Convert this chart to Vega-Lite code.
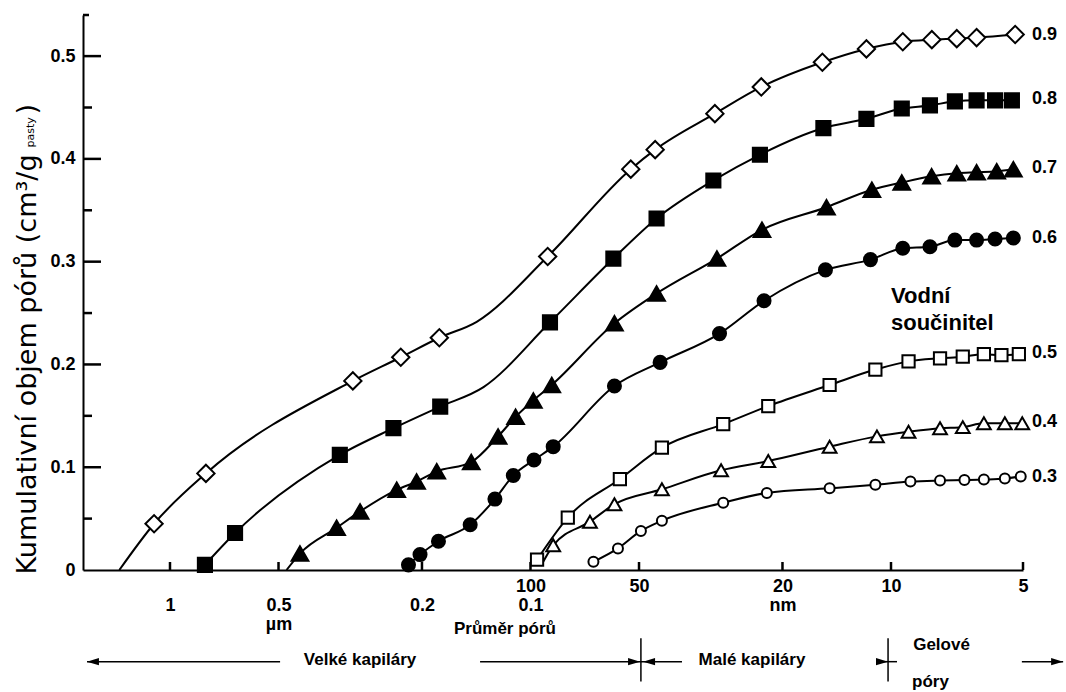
{
  "$schema": "https://vega.github.io/schema/vega-lite/v6.json",
  "width": 940,
  "height": 555,
  "autosize": {"type": "none"},
  "padding": {"left": 83, "top": 15, "right": 43, "bottom": 122},
  "background": "white",
  "config": {"view": {"stroke": null}, "axis": {"grid": false}},
  "datasets": {
    "curves": [
      {"s": 0.9, "d": 1382, "v": 0, "measured": false},
      {"s": 0.9, "d": 1107, "v": 0.045, "measured": true},
      {"s": 0.9, "d": 795, "v": 0.094, "measured": true},
      {"s": 0.9, "d": 311, "v": 0.184, "measured": true},
      {"s": 0.9, "d": 229, "v": 0.207, "measured": true},
      {"s": 0.9, "d": 179, "v": 0.226, "measured": true},
      {"s": 0.9, "d": 141, "v": 0.2415, "measured": false},
      {"s": 0.9, "d": 89.6, "v": 0.305, "measured": true},
      {"s": 0.9, "d": 52.7, "v": 0.39, "measured": true},
      {"s": 0.9, "d": 45.1, "v": 0.409, "measured": true},
      {"s": 0.9, "d": 30.8, "v": 0.444, "measured": true},
      {"s": 0.9, "d": 22.9, "v": 0.47, "measured": true},
      {"s": 0.9, "d": 15.5, "v": 0.494, "measured": true},
      {"s": 0.9, "d": 11.7, "v": 0.507, "measured": true},
      {"s": 0.9, "d": 9.4, "v": 0.514, "measured": true},
      {"s": 0.9, "d": 8.07, "v": 0.516, "measured": true},
      {"s": 0.9, "d": 7.08, "v": 0.517, "measured": true},
      {"s": 0.9, "d": 6.38, "v": 0.518, "measured": true},
      {"s": 0.9, "d": 5.21, "v": 0.521, "measured": true},

      {"s": 0.8, "d": 800, "v": 0.005, "measured": true},
      {"s": 0.8, "d": 660, "v": 0.036, "measured": true},
      {"s": 0.8, "d": 338, "v": 0.112, "measured": true},
      {"s": 0.8, "d": 240, "v": 0.138, "measured": true},
      {"s": 0.8, "d": 178, "v": 0.159, "measured": true},
      {"s": 0.8, "d": 135, "v": 0.178, "measured": false},
      {"s": 0.8, "d": 88.3, "v": 0.241, "measured": true},
      {"s": 0.8, "d": 58.9, "v": 0.303, "measured": true},
      {"s": 0.8, "d": 44.7, "v": 0.342, "measured": true},
      {"s": 0.8, "d": 31.1, "v": 0.379, "measured": true},
      {"s": 0.8, "d": 23.1, "v": 0.404, "measured": true},
      {"s": 0.8, "d": 15.4, "v": 0.43, "measured": true},
      {"s": 0.8, "d": 11.7, "v": 0.439, "measured": true},
      {"s": 0.8, "d": 9.45, "v": 0.449, "measured": true},
      {"s": 0.8, "d": 8.15, "v": 0.452, "measured": true},
      {"s": 0.8, "d": 7.15, "v": 0.456, "measured": true},
      {"s": 0.8, "d": 6.38, "v": 0.457, "measured": true},
      {"s": 0.8, "d": 5.79, "v": 0.457, "measured": true},
      {"s": 0.8, "d": 5.3, "v": 0.457, "measured": true},

      {"s": 0.7, "d": 475, "v": 0, "measured": false},
      {"s": 0.7, "d": 436, "v": 0.016, "measured": true},
      {"s": 0.7, "d": 345, "v": 0.041, "measured": true},
      {"s": 0.7, "d": 297, "v": 0.057, "measured": true},
      {"s": 0.7, "d": 235, "v": 0.078, "measured": true},
      {"s": 0.7, "d": 207, "v": 0.086, "measured": true},
      {"s": 0.7, "d": 182, "v": 0.096, "measured": true},
      {"s": 0.7, "d": 146, "v": 0.105, "measured": true},
      {"s": 0.7, "d": 123, "v": 0.13, "measured": true},
      {"s": 0.7, "d": 110, "v": 0.149, "measured": true},
      {"s": 0.7, "d": 98.2, "v": 0.165, "measured": true},
      {"s": 0.7, "d": 87.3, "v": 0.18, "measured": true},
      {"s": 0.7, "d": 58.5, "v": 0.24, "measured": true},
      {"s": 0.7, "d": 44.7, "v": 0.269, "measured": true},
      {"s": 0.7, "d": 30.4, "v": 0.303, "measured": true},
      {"s": 0.7, "d": 22.8, "v": 0.331, "measured": true},
      {"s": 0.7, "d": 15.1, "v": 0.353, "measured": true},
      {"s": 0.7, "d": 11.3, "v": 0.37, "measured": true},
      {"s": 0.7, "d": 9.45, "v": 0.377, "measured": true},
      {"s": 0.7, "d": 8.08, "v": 0.383, "measured": true},
      {"s": 0.7, "d": 7.08, "v": 0.386, "measured": true},
      {"s": 0.7, "d": 6.38, "v": 0.387, "measured": true},
      {"s": 0.7, "d": 5.74, "v": 0.388, "measured": true},
      {"s": 0.7, "d": 5.26, "v": 0.39, "measured": true},

      {"s": 0.6, "d": 218, "v": 0.005, "measured": true},
      {"s": 0.6, "d": 202.5, "v": 0.015, "measured": true},
      {"s": 0.6, "d": 180, "v": 0.028, "measured": true},
      {"s": 0.6, "d": 147, "v": 0.044, "measured": true},
      {"s": 0.6, "d": 125.5, "v": 0.069, "measured": true},
      {"s": 0.6, "d": 111.6, "v": 0.092, "measured": true},
      {"s": 0.6, "d": 97.8, "v": 0.107, "measured": true},
      {"s": 0.6, "d": 86.5, "v": 0.12, "measured": true},
      {"s": 0.6, "d": 58.5, "v": 0.179, "measured": true},
      {"s": 0.6, "d": 43.7, "v": 0.202, "measured": true},
      {"s": 0.6, "d": 29.9, "v": 0.23, "measured": true},
      {"s": 0.6, "d": 22.5, "v": 0.262, "measured": true},
      {"s": 0.6, "d": 15.2, "v": 0.292, "measured": true},
      {"s": 0.6, "d": 11.4, "v": 0.302, "measured": true},
      {"s": 0.6, "d": 9.4, "v": 0.313, "measured": true},
      {"s": 0.6, "d": 8.15, "v": 0.3145, "measured": true},
      {"s": 0.6, "d": 7.15, "v": 0.321, "measured": true},
      {"s": 0.6, "d": 6.38, "v": 0.321, "measured": true},
      {"s": 0.6, "d": 5.79, "v": 0.322, "measured": true},
      {"s": 0.6, "d": 5.26, "v": 0.323, "measured": true},

      {"s": 0.5, "d": 95.9, "v": 0.01, "measured": true},
      {"s": 0.5, "d": 78.8, "v": 0.051, "measured": true},
      {"s": 0.5, "d": 56.5, "v": 0.0885, "measured": true},
      {"s": 0.5, "d": 43.2, "v": 0.119, "measured": true},
      {"s": 0.5, "d": 29.2, "v": 0.142, "measured": true},
      {"s": 0.5, "d": 21.9, "v": 0.1595, "measured": true},
      {"s": 0.5, "d": 14.8, "v": 0.18, "measured": true},
      {"s": 0.5, "d": 11.05, "v": 0.195, "measured": true},
      {"s": 0.5, "d": 9.12, "v": 0.203, "measured": true},
      {"s": 0.5, "d": 7.73, "v": 0.206, "measured": true},
      {"s": 0.5, "d": 6.86, "v": 0.2075, "measured": true},
      {"s": 0.5, "d": 6.14, "v": 0.21, "measured": true},
      {"s": 0.5, "d": 5.6, "v": 0.209, "measured": true},
      {"s": 0.5, "d": 5.11, "v": 0.21, "measured": true},

      {"s": 0.4, "d": 93.5, "v": 0.004, "measured": false},
      {"s": 0.4, "d": 86.5, "v": 0.024, "measured": true},
      {"s": 0.4, "d": 68.4, "v": 0.047, "measured": true},
      {"s": 0.4, "d": 58.5, "v": 0.064, "measured": true},
      {"s": 0.4, "d": 43.2, "v": 0.0785, "measured": true},
      {"s": 0.4, "d": 29.6, "v": 0.097, "measured": true},
      {"s": 0.4, "d": 21.9, "v": 0.106, "measured": true},
      {"s": 0.4, "d": 14.8, "v": 0.12, "measured": true},
      {"s": 0.4, "d": 10.94, "v": 0.13, "measured": true},
      {"s": 0.4, "d": 9.12, "v": 0.1345, "measured": true},
      {"s": 0.4, "d": 7.73, "v": 0.138, "measured": true},
      {"s": 0.4, "d": 6.86, "v": 0.139, "measured": true},
      {"s": 0.4, "d": 6.14, "v": 0.1427, "measured": true},
      {"s": 0.4, "d": 5.5, "v": 0.1427, "measured": true},
      {"s": 0.4, "d": 5.02, "v": 0.1427, "measured": true},

      {"s": 0.3, "d": 66.9, "v": 0.008, "measured": true},
      {"s": 0.3, "d": 57.2, "v": 0.021, "measured": true},
      {"s": 0.3, "d": 49.4, "v": 0.038, "measured": true},
      {"s": 0.3, "d": 43.2, "v": 0.048, "measured": true},
      {"s": 0.3, "d": 29.2, "v": 0.0655, "measured": true},
      {"s": 0.3, "d": 22.1, "v": 0.075, "measured": true},
      {"s": 0.3, "d": 14.8, "v": 0.0795, "measured": true},
      {"s": 0.3, "d": 11.05, "v": 0.083, "measured": true},
      {"s": 0.3, "d": 9.03, "v": 0.086, "measured": true},
      {"s": 0.3, "d": 7.73, "v": 0.087, "measured": true},
      {"s": 0.3, "d": 6.8, "v": 0.0875, "measured": true},
      {"s": 0.3, "d": 6.14, "v": 0.088, "measured": true},
      {"s": 0.3, "d": 5.5, "v": 0.089, "measured": true},
      {"s": 0.3, "d": 5.06, "v": 0.091, "measured": true}
    ],
    "labels": [
      {"s": 0.9, "d": 5, "v": 0.5204},
      {"s": 0.8, "d": 5, "v": 0.4578},
      {"s": 0.7, "d": 5, "v": 0.3907},
      {"s": 0.6, "d": 5, "v": 0.3227},
      {"s": 0.5, "d": 5, "v": 0.2108},
      {"s": 0.4, "d": 5, "v": 0.1443},
      {"s": 0.3, "d": 5, "v": 0.0908}
    ],
    "notes": [
      {"t": "Vodní", "d": 10, "v": 0.2597},
      {"t": "součinitel", "d": 10, "v": 0.2335}
    ],
    "captions": [
      {"t": "Průměr pórů", "d": 117.7, "v": -0.0574},
      {"t": "Velké kapiláry", "d": 297, "v": -0.0875},
      {"t": "Malé kapiláry", "d": 24.3, "v": -0.0875},
      {"t": "Gelové", "d": 7.67, "v": -0.073},
      {"t": "póry", "d": 8.13, "v": -0.109}
    ],
    "lines": [
      {"d": 1699, "d2": 495, "v": -0.0892, "v2": -0.0892},
      {"d": 138, "d2": 49.4, "v": -0.0892, "v2": -0.0892},
      {"d": 49.4, "d2": 38, "v": -0.0892, "v2": -0.0892},
      {"d": 49.4, "d2": 49.4, "v": -0.0665, "v2": -0.1086},
      {"d": 10.94, "d2": 9.69, "v": -0.0892, "v2": -0.0892},
      {"d": 10.19, "d2": 10.19, "v": -0.0665, "v2": -0.1086},
      {"d": 5.03, "d2": 4.05, "v": -0.0892, "v2": -0.0892}
    ],
    "tickmarks": [
      {"d": 1743, "d2": 1553.8, "v": 0.1, "v2": 0.1},
      {"d": 1743, "d2": 1553.8, "v": 0.2, "v2": 0.2},
      {"d": 1743, "d2": 1553.8, "v": 0.3, "v2": 0.3},
      {"d": 1743, "d2": 1553.8, "v": 0.4, "v2": 0.4},
      {"d": 1743, "d2": 1553.8, "v": 0.5, "v2": 0.5},
      {"d": 1743, "d2": 1645.6, "v": 0.05, "v2": 0.05},
      {"d": 1743, "d2": 1645.6, "v": 0.15, "v2": 0.15},
      {"d": 1743, "d2": 1645.6, "v": 0.25, "v2": 0.25},
      {"d": 1743, "d2": 1645.6, "v": 0.35, "v2": 0.35},
      {"d": 1743, "d2": 1645.6, "v": 0.45, "v2": 0.45},
      {"d": 1743, "d2": 1677.4, "v": 0.54, "v2": 0.54},
      {"d": 1000, "d2": 1000, "v": 0, "v2": 0.0078},
      {"d": 500, "d2": 500, "v": 0, "v2": 0.0078},
      {"d": 200, "d2": 200, "v": 0, "v2": 0.0078},
      {"d": 100, "d2": 100, "v": 0, "v2": 0.0078},
      {"d": 50, "d2": 50, "v": 0, "v2": 0.0078},
      {"d": 20, "d2": 20, "v": 0, "v2": 0.0078},
      {"d": 10, "d2": 10, "v": 0, "v2": 0.0078},
      {"d": 5, "d2": 5, "v": 0, "v2": 0.0078}
    ],
    "heads": [
      {"d": 1636, "dir": "left", "v": -0.0892},
      {"d": 51.6, "dir": "right", "v": -0.0892},
      {"d": 46.9, "dir": "left", "v": -0.0892},
      {"d": 10.59, "dir": "right", "v": -0.0892},
      {"d": 4.18, "dir": "right", "v": -0.0892}
    ]
  },
  "layer": [
    {
      "data": {"name": "curves"},
      "mark": {"type": "line", "color": "black", "strokeWidth": 2, "interpolate": "monotone"},
      "encoding": {
        "x": {
          "field": "d", "type": "quantitative",
          "scale": {"type": "log", "domain": [1743, 10, 5], "range": [0, 808, 940], "nice": false},
          "axis": {
            "orient": "bottom",
            "values": [1000, 500, 200, 100, 50, 20, 10, 5],
            "title": null,
            "domainColor": "black", "domainWidth": 2,
            "ticks": false,
            "labelExpr": "datum.value == 1000 ? ['', '1'] : datum.value == 500 ? ['', '0.5', 'µm'] : datum.value == 200 ? ['', '0.2'] : datum.value == 100 ? ['100', '0.1'] : datum.value == 20 ? ['20', 'nm'] : datum.value == 50 ? '50' : datum.value == 10 ? '10' : '5'",
            "labelFont": "Liberation Sans", "labelFontSize": 18, "labelFontWeight": "bold", "labelColor": "black",
            "labelLineHeight": 19, "labelPadding": 7, "labelOverlap": false, "labelFlush": false, "labelBound": false
          }
        },
        "y": {
          "field": "v", "type": "quantitative",
          "scale": {"domain": [0, 0.54], "nice": false},
          "axis": {
            "orient": "left",
            "values": [0, 0.1, 0.2, 0.3, 0.4, 0.5],
            "ticks": false,
            "labelExpr": "datum.value == 0 ? '0' : format(datum.value, '.1f')",
            "labelFont": "Liberation Sans", "labelFontSize": 18, "labelFontWeight": "bold", "labelColor": "black", "labelPadding": 8,
            "domainColor": "black", "domainWidth": 2,
            "title": "Kumulativní objem pórů (cm³/g",
            "titleFont": "DejaVu Sans", "titleFontSize": 27, "titleFontWeight": "normal", "titleColor": "black",
            "titleAngle": 270, "titleAlign": "left", "titleBaseline": "alphabetic", "titleX": -48, "titleY": 559
          }
        },
        "detail": {"field": "s", "type": "nominal"},
        "order": {"field": "d", "type": "quantitative", "sort": "descending"}
      }
    },
    {
      "data": {"name": "tickmarks"},
      "mark": {"type": "rule", "color": "black", "strokeWidth": 2.5, "strokeCap": "butt", "opacity": 1},
      "encoding": {
        "x": {"field": "d", "type": "quantitative", "axis": null},
        "x2": {"field": "d2"},
        "y": {"field": "v", "type": "quantitative", "axis": null},
        "y2": {"field": "v2"}
      }
    },
    {
      "data": {"name": "curves"},
      "transform": [{"filter": "datum.measured"}],
      "mark": {"type": "point", "filled": true, "stroke": "black", "strokeWidth": 2, "opacity": 1},
      "encoding": {
        "x": {"field": "d", "type": "quantitative", "axis": null},
        "y": {"field": "v", "type": "quantitative", "axis": null},
        "shape": {"field": "s", "type": "nominal", "scale": {"domain": [0.9, 0.8, 0.7, 0.6, 0.5, 0.4, 0.3], "range": ["diamond", "square", "triangle-up", "circle", "square", "triangle-up", "circle"]}, "legend": null},
        "fill": {"field": "s", "type": "nominal", "scale": {"domain": [0.9, 0.8, 0.7, 0.6, 0.5, 0.4, 0.3], "range": ["white", "black", "black", "black", "white", "white", "white"]}, "legend": null},
        "size": {"field": "s", "type": "quantitative", "scale": {"type": "threshold", "domain": [0.35, 0.45, 0.55, 0.65, 0.75, 0.85], "range": [100, 190, 150, 170, 280, 200, 300]}, "legend": null}
      }
    },
    {
      "data": {"name": "labels"},
      "mark": {"type": "text", "align": "left", "baseline": "middle", "dx": 9, "font": "Liberation Sans", "fontSize": 18, "fontWeight": "bold", "color": "black"},
      "encoding": {
        "x": {"field": "d", "type": "quantitative", "axis": null},
        "y": {"field": "v", "type": "quantitative", "axis": null},
        "text": {"field": "s", "type": "quantitative", "format": ".1f"}
      }
    },
    {
      "data": {"name": "notes"},
      "mark": {"type": "text", "align": "left", "baseline": "alphabetic", "font": "Liberation Sans", "fontSize": 22, "fontWeight": "bold", "color": "black"},
      "encoding": {
        "x": {"field": "d", "type": "quantitative", "axis": null},
        "y": {"field": "v", "type": "quantitative", "axis": null},
        "text": {"field": "t", "type": "nominal"}
      }
    },
    {
      "data": {"name": "captions"},
      "mark": {"type": "text", "align": "center", "baseline": "middle", "font": "Liberation Sans", "fontSize": 17, "fontWeight": "bold", "color": "black"},
      "encoding": {
        "x": {"field": "d", "type": "quantitative", "axis": null},
        "y": {
          "field": "v", "type": "quantitative",
          "axis": {
            "orient": "left", "domain": true, "domainOpacity": 0, "ticks": false, "labels": false,
            "title": "pasty",
            "titleFont": "DejaVu Sans", "titleFontSize": 11, "titleFontWeight": "normal", "titleColor": "black",
            "titleAngle": 270, "titleAlign": "left", "titleBaseline": "alphabetic", "titleX": -50, "titleY": 132
          }
        },
        "text": {"field": "t", "type": "nominal"}
      }
    },
    {
      "data": {"name": "lines"},
      "mark": {"type": "rule", "color": "black", "strokeWidth": 1.5},
      "encoding": {
        "x": {"field": "d", "type": "quantitative", "axis": null},
        "x2": {"field": "d2"},
        "y": {
          "field": "v", "type": "quantitative",
          "axis": {
            "orient": "left", "domain": true, "domainOpacity": 0, "ticks": false, "labels": false,
            "title": ")",
            "titleFont": "DejaVu Sans", "titleFontSize": 27, "titleFontWeight": "normal", "titleColor": "black",
            "titleAngle": 270, "titleAlign": "left", "titleBaseline": "alphabetic", "titleX": -48, "titleY": 99
          }
        },
        "y2": {"field": "v2"}
      }
    },
    {
      "data": {"name": "heads"},
      "mark": {"type": "point", "filled": true, "color": "black", "size": 144, "strokeWidth": 0, "opacity": 1},
      "encoding": {
        "x": {"field": "d", "type": "quantitative", "axis": null},
        "y": {"field": "v", "type": "quantitative", "axis": null},
        "shape": {"field": "dir", "type": "nominal", "scale": {"domain": ["left", "right"], "range": ["M -1 0 L 1 -0.6 L 1 0.6 Z", "M 1 0 L -1 -0.6 L -1 0.6 Z"]}, "legend": null}
      }
    }
  ],
  "resolve": {
    "axis": {"x": "independent", "y": "independent"},
    "scale": {"shape": "independent", "fill": "independent", "size": "independent"}
  }
}
